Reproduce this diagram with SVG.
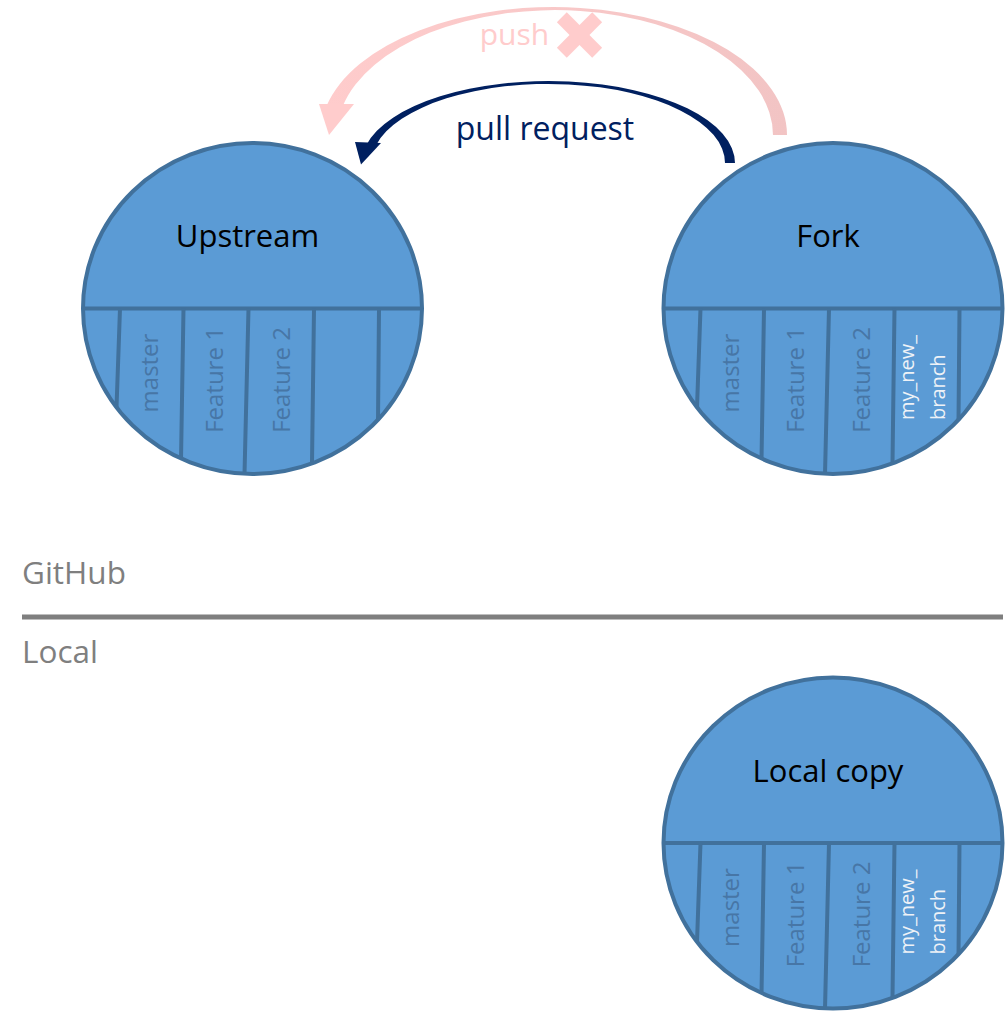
<svg xmlns="http://www.w3.org/2000/svg" width="1007" height="1012" viewBox="0 0 1007 1012">
<style>
.disk{fill:#5b9bd5}
.rim{fill:none;stroke:#41719c;stroke-width:4}
.div{fill:none;stroke:#41719c;stroke-width:4}
text{font-family:'Open Sans','Noto Sans','DejaVu Sans',sans-serif}
.title{font-size:31px;fill:#000;text-anchor:middle}
.br{font-size:24px;fill:#4776a6;text-anchor:middle}
.nb{font-size:20px;fill:#eef2f7;text-anchor:start}
.side{font-size:31.5px;fill:#7f7f7f}
</style>
<defs>
<clipPath id="disc" clipPathUnits="userSpaceOnUse"><ellipse cx="0" cy="0" rx="169.5" ry="165.5"/></clipPath>
<g id="parts">
<ellipse class="disk" cx="0" cy="0" rx="169.5" ry="165.5"/>
<g clip-path="url(#disc)">
<line class="div" x1="-180" y1="0" x2="180" y2="0"/>
<path class="div" d="M-132.5,0 L-138.5,170 M-69,0 L-71.8,170 M-4,0 L-8.1,170 M61.5,0 L59.3,170 M126.5,0 L125,170"/>
</g>
<ellipse class="rim" cx="0" cy="0" rx="169.5" ry="165.5"/>
<text class="br" transform="translate(-94.5,64.5) rotate(-90)">master</text>
<text class="br" transform="translate(-29.5,71.5) rotate(-90)">Feature 1</text>
<text class="br" transform="translate(37,71.5) rotate(-90)">Feature 2</text>
</g>
<linearGradient id="pink" gradientUnits="userSpaceOnUse" x1="320" y1="0" x2="790" y2="0">
<stop offset="0" stop-color="#ffcccc"/>
<stop offset="1" stop-color="#f2c4c4"/>
</linearGradient>
</defs>

<g id="connectors">
<g id="push">
<path fill="url(#pink)" d="M787,135 A233.3,128 0 0 0 326.5,106 L342.8,106 A218.1,125 0 0 1 773,135 Z"/>
<polygon fill="#ffcccc" points="319,104 354,104 329,135"/>
</g>
<g id="pull">
<path fill="#002060" d="M735,163 A186.6,82 0 0 0 366.4,145 L376.2,145 A176.7,79 0 0 1 725,163 Z"/>
<polygon fill="#002060" points="355,142 381,143 361,164.5"/>
</g>
</g>

<g id="label-push">
<text x="514.5" y="45" style="font-size:30px;fill:#ffcccc;text-anchor:middle">push</text>
<g fill="#ffcccc" transform="translate(579.5,35)">
<rect x="-25" y="-7" width="50" height="14" transform="rotate(45)"/>
<rect x="-25" y="-7" width="50" height="14" transform="rotate(-45)"/>
</g>
</g>
<g id="label-pull">
<text x="545" y="140" style="font-size:32px;fill:#002060;text-anchor:middle">pull request</text>
</g>

<g id="upstream" transform="translate(252.5,308.5)">
<use href="#parts"/>
<text class="title" x="-5" y="-62">Upstream</text>
</g>

<g id="fork" transform="translate(833,308.5)">
<use href="#parts"/>
<text class="title" x="-5" y="-62">Fork</text>
<text class="nb" transform="translate(80.5,111.5) rotate(-90)">my_new_<tspan x="0" dy="31">branch</tspan></text>
</g>

<g id="local-copy" transform="translate(833,843)">
<use href="#parts"/>
<text class="title" x="-5" y="-61">Local copy</text>
<text class="nb" transform="translate(80.5,111.5) rotate(-90)">my_new_<tspan x="0" dy="31">branch</tspan></text>
</g>

<g id="divider">
<line x1="22" y1="617" x2="1003" y2="617" stroke="#7f7f7f" stroke-width="5"/>
<text class="side" x="22" y="584">GitHub</text>
<text class="side" x="22" y="663">Local</text>
</g>
</svg>
